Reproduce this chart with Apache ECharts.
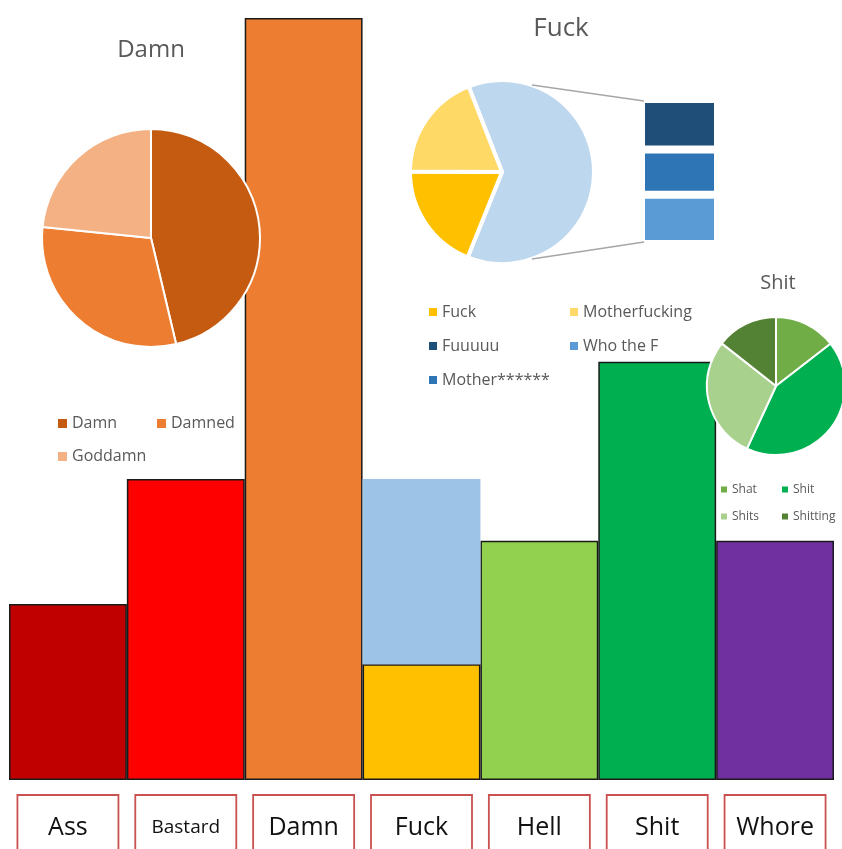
<!DOCTYPE html>
<html>
<head>
<meta charset="utf-8">
<script src="https://cdn.jsdelivr.net/npm/echarts@6/dist/echarts.min.js"></script>
<style>
html,body{margin:0;padding:0;background:#fff;}
#chart{width:842px;height:849px;}
</style>
</head>
<body>
<div id="chart"></div>
<script>
// ---- data ----
const categories = ['Ass', 'Bastard', 'Damn', 'Fuck', 'Hell', 'Shit', 'Whore'];
const barValues = [23.1, 39.5, 100, 15.2, 31.4, 54.9, 31.4];
const fuckOtherValues = ['-', '-', '-', 24.3, '-', '-', '-'];
const barColors = ['#C00000', '#FF0000', '#ED7D31', '#FFC000', '#92D050', '#00B050', '#7030A0'];

const damnNames = ['Damn', 'Damned', 'Goddamn'];
const damnValues = [46.3, 30.3, 23.4];
const damnColors = ['#C55A11', '#ED7D31', '#F4B183'];

const fuckNames = ['Fuck', 'Motherfucking'];
const fuckValues = [19, 19];
const fuckColors = ['#FFC000', '#FFD966'];
const otherNames = ['Fuuuuu', 'Mother******', 'Who the F'];
const otherValues = [21.6, 19.3, 21.1];
const otherColors = ['#1F4E79', '#2E75B6', '#5B9BD5'];
const fuckLegendOrder = ['Fuck', 'Motherfucking', 'Fuuuuu', 'Who the F', 'Mother******'];

const shitNames = ['Shat', 'Shit', 'Shits', 'Shitting'];
const shitValues = [14.5, 42.4, 28.7, 14.4];
const shitColors = ['#70AD47', '#00B050', '#A9D18E', '#548235'];

// ---- layout ----
const TXT = '#595959';
const SANS = '"Open Sans", "Noto Sans", sans-serif';
const damnPie = { center: [151, 238], r: 109 };
const fuckPie = { center: [502, 172], r: 92 };
const shitPie = { center: [776, 386], r: 69 };
const subGrid = { left: 641, top: 99, width: 77, height: 145 };

const chart = echarts.init(document.getElementById('chart'), null, { renderer: 'canvas' });

const sum = a => a.reduce((s, v) => s + v, 0);
const otherTotal = sum(otherValues);

function pieData(names, values, colors) {
  return names.map((n, i) => ({ name: n, value: values[i], itemStyle: { color: colors[i] } }));
}

const series = [
  {
    name: 'Words', type: 'bar', stack: 'main', xAxisIndex: 0, yAxisIndex: 0,
    barCategoryGap: 0, z: 2,
    data: barValues.map((v, i) => ({ value: v, itemStyle: { color: barColors[i] } })),
    itemStyle: { borderColor: '#1a1a1a', borderWidth: 1.5 },
    emphasis: { disabled: true }
  },
  {
    name: 'Fuck other', type: 'bar', stack: 'main', xAxisIndex: 0, yAxisIndex: 0,
    barCategoryGap: 0, z: 2,
    data: fuckOtherValues,
    itemStyle: { color: '#9DC3E6', borderWidth: 0 },
    emphasis: { disabled: true }
  },
  {
    name: 'DamnPie', type: 'pie', z: 3,
    center: damnPie.center, radius: damnPie.r, startAngle: 90,
    data: pieData(damnNames, damnValues, damnColors),
    itemStyle: { borderColor: '#fff', borderWidth: 2 },
    label: { show: false }, labelLine: { show: false },
    emphasis: { disabled: true }
  },
  {
    name: 'FuckPie', type: 'pie', z: 3,
    center: fuckPie.center, radius: fuckPie.r, startAngle: 111.3,
    data: [{ name: 'Other', value: otherTotal, itemStyle: { color: '#BDD7EE' } }]
      .concat(pieData(fuckNames, fuckValues, fuckColors)),
    itemStyle: { borderColor: '#fff', borderWidth: 4 },
    label: { show: false }, labelLine: { show: false },
    emphasis: { disabled: true }
  },
  {
    name: 'ShitPie', type: 'pie', z: 3,
    center: shitPie.center, radius: shitPie.r, startAngle: 90,
    data: pieData(shitNames, shitValues, shitColors),
    itemStyle: { borderColor: '#fff', borderWidth: 2 },
    label: { show: false }, labelLine: { show: false },
    emphasis: { disabled: true }
  }
];
// secondary stacked bar (bottom first)
for (let i = otherNames.length - 1; i >= 0; i--) {
  series.push({
    name: otherNames[i], type: 'bar', stack: 'other', xAxisIndex: 1, yAxisIndex: 1,
    barWidth: '100%', z: 3,
    data: [otherValues[i]],
    itemStyle: { color: otherColors[i], borderColor: '#fff', borderWidth: 4 },
    emphasis: { disabled: true }
  });
}

// connector lines derived from the pie and secondary bar layout
const ang = 19 * Math.PI / 180;
const topPt = [fuckPie.center[0] + fuckPie.r * Math.sin(ang), fuckPie.center[1] - fuckPie.r * Math.cos(ang)];
const botPt = [fuckPie.center[0] + fuckPie.r * Math.sin(ang), fuckPie.center[1] + fuckPie.r * Math.cos(ang)];
const barTL = [subGrid.left + 3, subGrid.top + 2];
const barBL = [subGrid.left + 3, subGrid.top + subGrid.height - 2];

const option = {
  animation: false,
  backgroundColor: '#fff',
  title: [
    { text: 'Damn', left: 151, top: 38, textAlign: 'center', padding: 0,
      textStyle: { fontFamily: SANS, fontSize: 24, fontWeight: 'normal', color: TXT } },
    { text: 'Fuck', left: 561, top: 16, textAlign: 'center', padding: 0,
      textStyle: { fontFamily: SANS, fontSize: 26, fontWeight: 'normal', color: TXT } },
    { text: 'Shit', left: 778, top: 273, textAlign: 'center', padding: 0,
      textStyle: { fontFamily: SANS, fontSize: 20, fontWeight: 'normal', color: TXT } }
  ],
  legend: [
    { data: damnNames, left: 58, top: 412, width: 200, padding: 0, itemGap: 10,
      icon: 'rect', itemWidth: 9, itemHeight: 9, selectedMode: false,
      itemStyle: { borderWidth: 0 },
      textStyle: { fontFamily: SANS, fontSize: 16, color: TXT, width: 75, lineHeight: 23, overflow: 'none' } },
    { data: fuckLegendOrder, left: 429, top: 300, width: 300, padding: 0, itemGap: 10,
      icon: 'rect', itemWidth: 8, itemHeight: 8, selectedMode: false,
      itemStyle: { borderWidth: 0 },
      textStyle: { fontFamily: SANS, fontSize: 16, color: TXT, width: 118, lineHeight: 24, overflow: 'none' } },
    { data: shitNames, left: 721, top: 480, width: 120, padding: 0, itemGap: 8,
      icon: 'rect', itemWidth: 6, itemHeight: 6, selectedMode: false,
      itemStyle: { borderWidth: 0 },
      textStyle: { fontFamily: SANS, fontSize: 12, color: TXT, width: 42, lineHeight: 19, overflow: 'none' } }
  ],
  grid: [
    { left: 9, right: 8, top: 18, bottom: 69, outerBoundsMode: 'none', containLabel: false },
    { left: subGrid.left, top: subGrid.top, width: subGrid.width, height: subGrid.height, outerBoundsMode: 'none' }
  ],
  xAxis: [
    {
      type: 'category', gridIndex: 0,
      data: categories.map(c => c === 'Bastard' ? { value: c, textStyle: { fontSize: 19 } } : c),
      axisLine: { show: false }, axisTick: { show: false }, splitLine: { show: false },
      axisLabel: {
        interval: 0, margin: 15, fontFamily: SANS, fontSize: 25, color: '#111',
        width: 101, height: 66, lineHeight: 66, align: 'center',
        borderColor: '#C9514F', borderWidth: 1.8
      }
    },
    { type: 'category', gridIndex: 1, data: ['Other'], show: false }
  ],
  yAxis: [
    { type: 'value', gridIndex: 0, min: 0, max: 100, show: false, splitLine: { show: false } },
    { type: 'value', gridIndex: 1, min: 0, max: otherTotal, show: false, splitLine: { show: false } }
  ],
  graphic: [
    { type: 'line', z: 10, shape: { x1: topPt[0], y1: topPt[1], x2: barTL[0], y2: barTL[1] },
      style: { stroke: '#A6A6A6', lineWidth: 1.5 } },
    { type: 'line', z: 10, shape: { x1: botPt[0], y1: botPt[1], x2: barBL[0], y2: barBL[1] },
      style: { stroke: '#A6A6A6', lineWidth: 1.5 } }
  ],
  series: series
};
chart.setOption(option);
</script>
</body>
</html>
